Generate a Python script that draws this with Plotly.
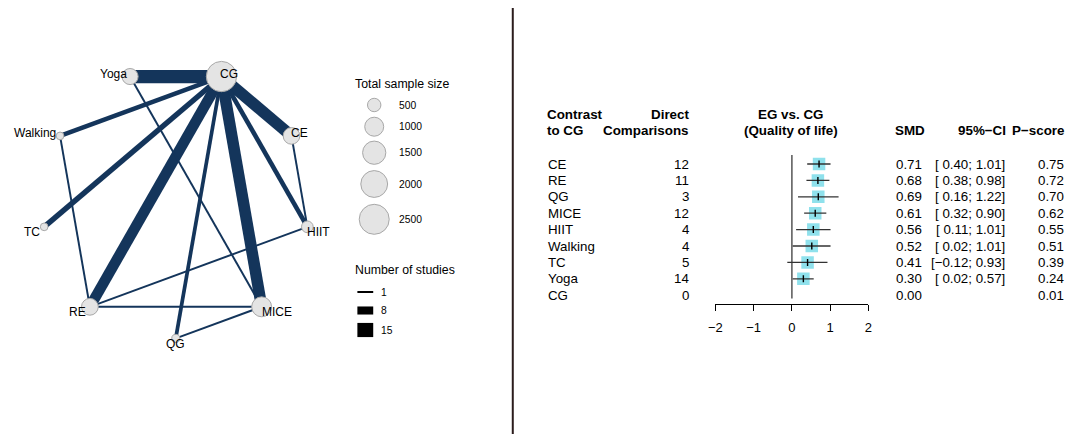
import math
import plotly.graph_objects as go

# ---------------- data ----------------
treatments = ["CE", "RE", "QG", "MICE", "HIIT", "Walking", "TC", "Yoga", "CG"]
direct_comparisons = [12, 11, 3, 12, 4, 4, 5, 14, 0]
smd = [0.71, 0.68, 0.69, 0.61, 0.56, 0.52, 0.41, 0.30, 0.00]
ci_low = [0.40, 0.38, 0.16, 0.32, 0.11, 0.02, -0.12, 0.02, None]
ci_high = [1.01, 0.98, 1.22, 0.90, 1.01, 1.01, 0.93, 0.57, None]
p_score = [0.75, 0.72, 0.70, 0.62, 0.55, 0.51, 0.39, 0.24, 0.01]
x_ticks = [-2, -1, 0, 1, 2]

# network: nodes in circular order (counter-clockwise starting at bottom)
network_nodes = ["QG", "MICE", "HIIT", "CE", "CG", "Yoga", "Walking", "TC", "RE"]
node_sample_size = [180, 1100, 380, 770, 2550, 720, 165, 165, 780]
# edges to CG use direct comparisons above; other edges:
other_edge_from = ["Yoga", "Walking", "CE", "HIIT", "RE", "MICE"]
other_edge_to = ["MICE", "RE", "HIIT", "RE", "MICE", "QG"]
other_edge_studies = [1, 1, 1, 1, 1, 1]

legend_sample_sizes = [500, 1000, 1500, 2000, 2500]
legend_studies = [1, 8, 15]

# ---------------- style / layout ----------------
W, H = 1076, 434
FONT = "Liberation Sans, Arial, sans-serif"
NAVY = "#14355b"
NODE_FILL = "#e4e4e4"
NODE_LINE = "#a8a8a8"
SQUARE = "#8fe1ec"

NET_CX, NET_CY, NET_R = 170.5, 203.4, 135.0
ANGLE0, ANGLE_STEP = -90.0, 40.0


def node_diam(n):
    return 0.6 * math.sqrt(n)


def edge_width(k):
    return 0.87 * k + 1.1


pos = {}
for i, name in enumerate(network_nodes):
    a = math.radians(ANGLE0 + ANGLE_STEP * i)
    pos[name] = (NET_CX + NET_R * math.cos(a), NET_CY - NET_R * math.sin(a))

fig = go.Figure()

# edges
edges = []
for t, k in zip(treatments, direct_comparisons):
    if t != "CG" and k > 0:
        edges.append(("CG", t, k))
for a, b, k in zip(other_edge_from, other_edge_to, other_edge_studies):
    edges.append((a, b, k))

for a, b, k in edges:
    (x1, y1), (x2, y2) = pos[a], pos[b]
    fig.add_trace(go.Scatter(x=[x1, x2], y=[y1, y2], mode="lines",
                             line=dict(color=NAVY, width=edge_width(k)),
                             xaxis="x", yaxis="y", hoverinfo="skip", showlegend=False))

# nodes
fig.add_trace(go.Scatter(
    x=[pos[n][0] for n in network_nodes], y=[pos[n][1] for n in network_nodes],
    mode="markers",
    marker=dict(size=[node_diam(s) for s in node_sample_size], color=NODE_FILL,
                opacity=1, line=dict(color=NODE_LINE, width=1)),
    xaxis="x", yaxis="y", hoverinfo="skip", showlegend=False))

annotations = []

# node labels
label_style = {
    "CG": ("left", -3, 3), "Yoga": ("right", -1, 3), "Walking": ("right", -2, 3),
    "CE": ("left", -2, 3), "HIIT": ("left", -2, -5), "TC": ("right", -2, -5),
    "RE": ("right", -2, -5), "MICE": ("left", -2, -5), "QG": ("center", 0, -6),
}
for n in network_nodes:
    xa, xs, ys = label_style[n]
    annotations.append(dict(x=pos[n][0], y=pos[n][1], xref="x", yref="y", text=n,
                            showarrow=False, xanchor=xa, yanchor="middle",
                            xshift=xs, yshift=ys,
                            font=dict(family=FONT, size=12, color="black")))

# legend: sample size
LEG_X = 350
annotations.append(dict(x=LEG_X, y=84, xref="x", yref="y", text="Total sample size",
                        showarrow=False, xanchor="left", yanchor="middle",
                        font=dict(family=FONT, size=12.3, color="black")))
leg_circle_y = [105, 126.7, 152.7, 184, 219.3]
fig.add_trace(go.Scatter(
    x=[371] * len(legend_sample_sizes), y=leg_circle_y, mode="markers",
    marker=dict(size=[node_diam(s) for s in legend_sample_sizes], color=NODE_FILL,
                opacity=1, line=dict(color=NODE_LINE, width=1)),
    xaxis="x", yaxis="y", hoverinfo="skip", showlegend=False))
for s, yy in zip(legend_sample_sizes, leg_circle_y):
    annotations.append(dict(x=394, y=yy, xref="x", yref="y", text=str(s),
                            showarrow=False, xanchor="left", yanchor="middle",
                            font=dict(family=FONT, size=10.3, color="black")))

# legend: number of studies
annotations.append(dict(x=LEG_X, y=270, xref="x", yref="y", text="Number of studies",
                        showarrow=False, xanchor="left", yanchor="middle",
                        font=dict(family=FONT, size=12.3, color="black")))
leg_line_y = [292, 310.5, 330]
for k, yy in zip(legend_studies, leg_line_y):
    fig.add_trace(go.Scatter(x=[354, 370], y=[yy, yy], mode="lines",
                             line=dict(color="black", width=edge_width(k)),
                             xaxis="x", yaxis="y", hoverinfo="skip", showlegend=False))
    annotations.append(dict(x=376, y=yy, xref="x", yref="y", text=str(k),
                            showarrow=False, xanchor="left", yanchor="middle",
                            font=dict(family=FONT, size=10.3, color="black")))

# ---------------- forest plot ----------------
rows = list(range(1, len(treatments) + 1))
Y_TOP, Y_BOT = 0.451, 9.537

fig.add_trace(go.Scatter(x=[0, 0], y=[Y_TOP, 9.2], mode="lines",
                         line=dict(color="#555555", width=1.5),
                         xaxis="x2", yaxis="y2", hoverinfo="skip", showlegend=False))

sq_x = [m for m, lo in zip(smd, ci_low) if lo is not None]
sq_y = [r for r, lo in zip(rows, ci_low) if lo is not None]
fig.add_trace(go.Scatter(x=sq_x, y=sq_y, mode="markers",
                         marker=dict(symbol="square", size=12.5, color=SQUARE, opacity=1,
                                     line=dict(width=0)),
                         xaxis="x2", yaxis="y2", hoverinfo="skip", showlegend=False))
for r, lo, hi in zip(rows, ci_low, ci_high):
    if lo is None:
        continue
    fig.add_trace(go.Scatter(x=[lo, hi], y=[r, r], mode="lines",
                             line=dict(color="#333333", width=1.3),
                             xaxis="x2", yaxis="y2", hoverinfo="skip", showlegend=False))
fig.add_trace(go.Scatter(x=sq_x, y=sq_y, mode="markers",
                         marker=dict(symbol="line-ns", size=5, opacity=1,
                                     line=dict(color="black", width=1.4)),
                         xaxis="x2", yaxis="y2", hoverinfo="skip", showlegend=False))

TXT = dict(family=FONT, size=13.3, color="black")
BOLD = dict(family=FONT, size=13.4, color="black", weight="bold")


def fmt(v):
    return f"{v:.2f}".replace("-", "\u2212")


for r, t, d, m, lo, hi, p in zip(rows, treatments, direct_comparisons, smd, ci_low, ci_high, p_score):
    annotations.append(dict(x=545, y=r, xref="x", yref="y2", text=t, showarrow=False,
                            xanchor="left", yanchor="middle", font=TXT))
    annotations.append(dict(x=691, y=r, xref="x", yref="y2", text=str(d), showarrow=False,
                            xanchor="right", yanchor="middle", font=TXT))
    annotations.append(dict(x=896, y=r, xref="x", yref="y2", text=fmt(m), showarrow=False,
                            xanchor="left", yanchor="middle", font=TXT))
    if lo is not None:
        lo_s = fmt(lo)
        if lo >= 0:
            lo_s = "\u00a0" + lo_s
        annotations.append(dict(x=1010, y=r, xref="x", yref="y2",
                                text=f"[{lo_s}; {fmt(hi)}]", showarrow=False,
                                xanchor="right", yanchor="middle", font=TXT))
    annotations.append(dict(x=1070, y=r, xref="x", yref="y2", text=fmt(p), showarrow=False,
                            xanchor="right", yanchor="middle", font=TXT))

headers = [
    ("Contrast", 544, 114, "left"), ("to CG", 544, 130, "left"),
    ("Direct", 691, 114, "right"), ("Comparisons", 691, 130, "right"),
    ("EG vs. CG", 792, 114, "center"), ("(Quality of life)", 792, 130, "center"),
    ("SMD", 895, 130, "left"), ("95%\u2212CI", 1011, 130, "right"),
    ("P\u2212score", 1070, 130, "right"),
]
for txt, hx, hy, xa in headers:
    annotations.append(dict(x=hx, y=hy, xref="x", yref="y", text=f"<b>{txt}</b>",
                            showarrow=False, xanchor=xa, yanchor="middle", font=BOLD))

fig.update_layout(
    width=W, height=H, margin=dict(l=0, r=0, t=0, b=0),
    paper_bgcolor="white", plot_bgcolor="rgba(0,0,0,0)",
    showlegend=False, hovermode=False,
    xaxis=dict(domain=[0, 1], range=[0, W], visible=False, fixedrange=True),
    yaxis=dict(domain=[0, 1], range=[H, 0], visible=False, fixedrange=True),
    xaxis2=dict(domain=[715.7 / W, 870.3 / W], range=[-2, 2], anchor="y2",
                tickvals=x_ticks, ticks="outside", ticklen=6, tickwidth=1.3,
                tickcolor="black", showline=True, linecolor="black", linewidth=1.3,
                showgrid=False, zeroline=False, ticklabelstandoff=5,
                tickfont=dict(family=FONT, size=13, color="black"), fixedrange=True),
    yaxis2=dict(domain=[1 - 304 / H, 1 - 155 / H], range=[Y_BOT, Y_TOP], anchor="x2",
                visible=False, fixedrange=True),
    annotations=annotations,
    shapes=[dict(type="line", xref="x", yref="y", x0=511, x1=511, y0=8, y1=H,
                 line=dict(color="#2b1c1c", width=2))],
)

fig.write_html("out.html", config={"displayModeBar": False})
